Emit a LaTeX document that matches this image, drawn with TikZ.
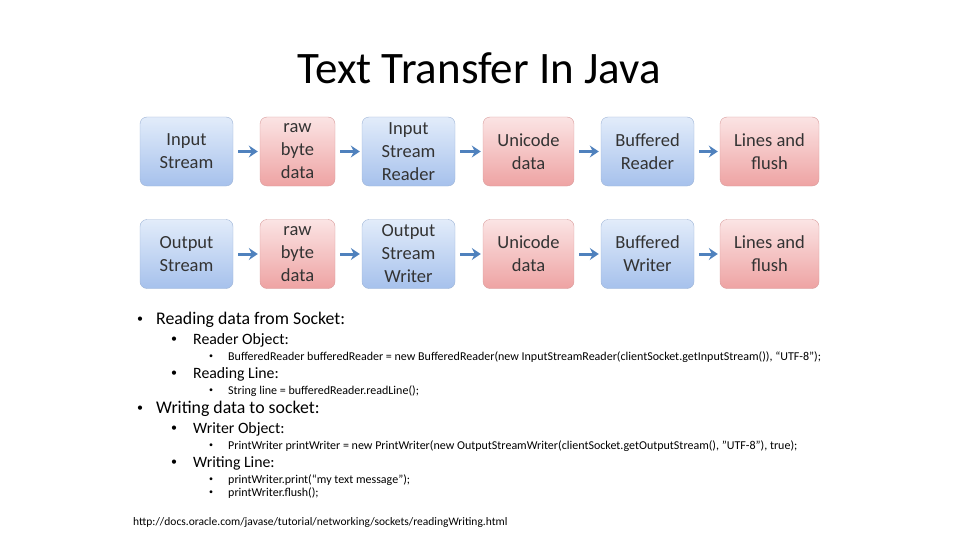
\documentclass[tikz,border=0pt]{standalone}
\usepackage{fontspec}
\setmainfont{Carlito}
\usetikzlibrary{arrows.meta}
\definecolor{bluetop}{HTML}{E2ECFA}
\definecolor{bluebot}{HTML}{A6C1EC}
\definecolor{redtop}{HTML}{FBE4E4}
\definecolor{redbot}{HTML}{EEA3A3}
\definecolor{arcol}{HTML}{4F81BD}
\begin{document}
\begin{tikzpicture}[x=1pt,y=-1pt,
 bx/.style={rounded corners=7pt,minimum height=69pt,align=center,font=\fontsize{18.5}{23}\selectfont,text=black!80,inner sep=1pt},
 bluebx/.style={bx,draw=bluebot!80!gray,top color=bluetop,bottom color=bluebot},
 redbx/.style={bx,draw=redbot!80!gray,top color=redtop,bottom color=redbot},
 ar/.style={draw=arcol,line width=3pt,shorten <=5pt,shorten >=2pt,-{Stealth[length=9pt,width=12pt,inset=3pt]}},
 t1/.style={anchor=west,font=\fontsize{17.8}{20}\selectfont,inner sep=0pt},
 t2/.style={anchor=west,font=\fontsize{15.8}{18}\selectfont,inner sep=0pt},
 t3/.style={anchor=west,font=\fontsize{12}{13}\selectfont,inner sep=0pt},
 bul/.style={inner sep=0pt,font=\fontsize{12}{12}\selectfont}]
\useasboundingbox (0,0) rectangle (960,540);
\node[font=\fontsize{45}{48}\selectfont] (title) at (479,68) {Text Transfer In Java};
% top row
\node[bluebx,minimum width=93pt] (a1) at (186.5,151.5) {Input\\Stream};
\node[redbx,minimum width=75pt] (a2) at (297.5,151.5) {raw\\byte\\data};
\node[bluebx,minimum width=93pt] (a3) at (408.5,151.5) {Input\\Stream\\Reader};
\node[redbx,minimum width=91pt] (a4) at (528.5,151.5) {Unicode\\data};
\node[bluebx,minimum width=93pt] (a5) at (647.5,151.5) {Buffered\\Reader};
\node[redbx,minimum width=99pt] (a6) at (769.5,151.5) {Lines and\\flush};
\foreach \i/\j in {a1/a2,a2/a3,a3/a4,a4/a5,a5/a6} \draw[ar] (\i) -- (\j);
% bottom row
\node[bluebx,minimum width=93pt] (b1) at (186.5,254) {Output\\Stream};
\node[redbx,minimum width=75pt] (b2) at (297.5,254) {raw\\byte\\data};
\node[bluebx,minimum width=93pt] (b3) at (408.5,254) {Output\\Stream\\Writer};
\node[redbx,minimum width=91pt] (b4) at (528.5,254) {Unicode\\data};
\node[bluebx,minimum width=93pt] (b5) at (647.5,254) {Buffered\\Writer};
\node[redbx,minimum width=99pt] (b6) at (769.5,254) {Lines and\\flush};
\foreach \i/\j in {b2/b1,b3/b2,b4/b3,b5/b4,b6/b5} \draw[ar] (\j) -- (\i);
% text
\node[bul] (p1) at (140,320) {•}; \node[t1] (l1) at (156,320) {Reading data from Socket:};
\node[bul] (p2) at (174,340) {•}; \node[t2] (l2) at (193,340) {Reader Object:};
\node[bul,font=\fontsize{8}{8}\selectfont] (p3) at (211,357) {•}; \node[t3] (l3) at (228,357) {BufferedReader bufferedReader = new BufferedReader(new InputStreamReader(clientSocket.getInputStream()), “UTF-8”);};
\node[bul] (p4) at (174,374) {•}; \node[t2] (l4) at (193,374) {Reading Line:};
\node[bul,font=\fontsize{8}{8}\selectfont] (p5) at (211,391) {•}; \node[t3] (l5) at (228,391) {String line = bufferedReader.readLine();};
\node[bul] (p6) at (140,409) {•}; \node[t1] (l6) at (156,409) {Writing data to socket:};
\node[bul] (p7) at (174,429) {•}; \node[t2] (l7) at (193,429) {Writer Object:};
\node[bul,font=\fontsize{8}{8}\selectfont] (p8) at (211,446) {•}; \node[t3] (l8) at (228,446) {PrintWriter printWriter = new PrintWriter(new OutputStreamWriter(clientSocket.getOutputStream(), "UTF-8"), true);};
\node[bul] (p9) at (174,463) {•}; \node[t2] (l9) at (193,463) {Writing Line:};
\node[bul,font=\fontsize{8}{8}\selectfont] (p10) at (211,480) {•}; \node[t3] (l10) at (228,480) {printWriter.print(“my text message”);};
\node[bul,font=\fontsize{8}{8}\selectfont] (p11) at (211,493) {•}; \node[t3] (l11) at (228,493) {printWriter.flush();};
\node[t3,font=\fontsize{11.5}{13}\selectfont] (url) at (133,522) {http://docs.oracle.com/javase/tutorial/networking/sockets/readingWriting.html};
\end{tikzpicture}
\end{document}
